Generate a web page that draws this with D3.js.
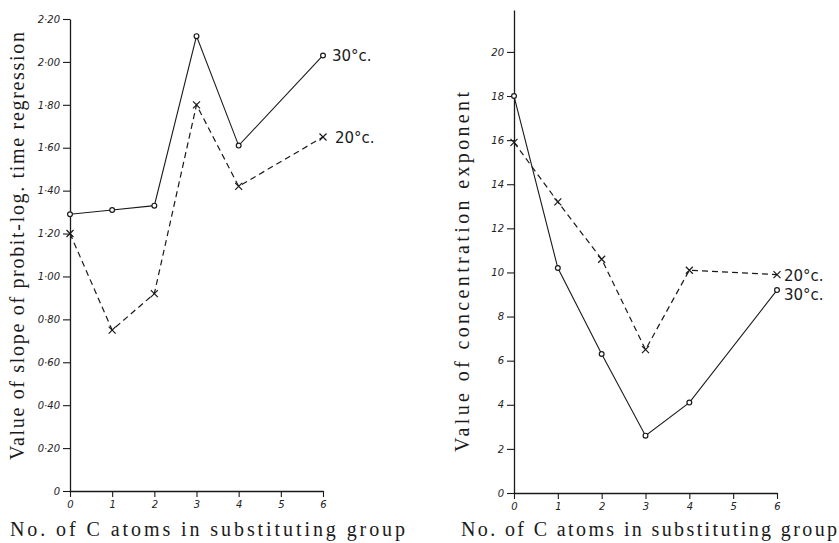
<!DOCTYPE html>
<html>
<head>
<meta charset="utf-8">
<script src="https://cdn.jsdelivr.net/npm/d3@7/dist/d3.min.js"></script>
<style>
  body { margin: 0; background: #fff; }
  .tick text { font-family: "DejaVu Sans", sans-serif; font-style: italic; font-size: 10px; fill: #222; }
  .title { font-family: "Liberation Serif", serif; font-size: 20px; fill: #1a1a1a; }
  .tag { font-family: "DejaVu Sans", sans-serif; font-size: 15px; fill: #1a1a1a; }
</style>
</head>
<body>
<div id="chart"></div>
<script>
// values
var carbons = [0, 1, 2, 3, 4, 6];
var xTicks = [0, 1, 2, 3, 4, 5, 6];

var slope30 = [1.29, 1.31, 1.33, 2.12, 1.61, 2.03];
var slope20 = [1.20, 0.75, 0.92, 1.80, 1.42, 1.65];
var slopeTicks = [0, 0.2, 0.4, 0.6, 0.8, 1.0, 1.2, 1.4, 1.6, 1.8, 2.0, 2.2];

var conc30 = [18.0, 10.2, 6.3, 2.6, 4.1, 9.2];
var conc20 = [15.9, 13.2, 10.6, 6.5, 10.1, 9.9];
var concTicks = [0, 2, 4, 6, 8, 10, 12, 14, 16, 18, 20];

var xTitle = "No. of C atoms in substituting group";
var tag30 = "30°c.";
var tag20 = "20°c.";

var ink = "#1a1a1a";

var svg = d3.select("#chart").append("svg")
  .attr("width", 839)
  .attr("height", 543);

function drawPanel(p) {
  var x = d3.scaleLinear().domain([0, 6]).range([p.left, p.right]);
  var y = d3.scaleLinear().domain([0, p.ymax]).range([p.bottom, p.top]);

  var g = svg.append("g");

  // axes
  var xAxis = d3.axisBottom(x).tickValues(xTicks).tickSize(6).tickSizeOuter(0).tickPadding(4)
    .tickFormat(d3.format("d"));
  g.append("g").attr("transform", "translate(0," + p.bottom + ")").call(xAxis);

  var yAxis = d3.axisLeft(y).tickValues(p.ticks).tickSize(7).tickSizeOuter(0).tickPadding(3)
    .tickFormat(p.fmt);
  g.append("g").attr("transform", "translate(" + p.left + ",0)").call(yAxis);

  g.selectAll(".domain").attr("stroke", ink).attr("stroke-width", 1.3);
  g.selectAll(".tick line").attr("stroke", ink).attr("stroke-width", 1.1);

  // axis titles
  g.append("text").attr("class", "title")
    .attr("x", p.xtX).attr("y", 536)
    .attr("textLength", p.xtLen).attr("lengthAdjust", "spacing")
    .text(xTitle);

  g.append("text").attr("class", "title")
    .attr("transform", "translate(" + p.ytX + "," + p.ytY + ") rotate(-90)")
    .attr("text-anchor", "middle")
    .attr("textLength", p.ytLen).attr("lengthAdjust", "spacing")
    .text(p.yTitle);

  var line = d3.line().x(function(d) { return x(d[0]); }).y(function(d) { return y(d[1]); });

  var s30 = carbons.map(function(c, i) { return [c, p.v30[i]]; });
  var s20 = carbons.map(function(c, i) { return [c, p.v20[i]]; });

  g.append("path").datum(s20).attr("d", line)
    .attr("fill", "none").attr("stroke", ink).attr("stroke-width", 1.2)
    .attr("stroke-dasharray", "6,4");

  g.append("path").datum(s30).attr("d", line)
    .attr("fill", "none").attr("stroke", ink).attr("stroke-width", 1.1);

  // crosses for 20 deg
  g.selectAll(".cross").data(s20).enter().append("path")
    .attr("class", "cross")
    .attr("d", function(d) {
      var cx = x(d[0]), cy = y(d[1]), r = 3.5;
      return "M" + (cx - r) + "," + (cy - r) + "L" + (cx + r) + "," + (cy + r) +
             "M" + (cx - r) + "," + (cy + r) + "L" + (cx + r) + "," + (cy - r);
    })
    .attr("stroke", ink).attr("stroke-width", 1.2).attr("fill", "none");

  // open circles for 30 deg
  g.selectAll(".dot").data(s30).enter().append("circle")
    .attr("class", "dot")
    .attr("cx", function(d) { return x(d[0]); })
    .attr("cy", function(d) { return y(d[1]); })
    .attr("r", 2.4)
    .attr("fill", "#fff").attr("stroke", ink).attr("stroke-width", 1.2);

  // series tags at the last point
  g.append("text").attr("class", "tag")
    .attr("x", x(6) + p.tag30dx).attr("y", y(p.v30[5]) + p.tag30dy).text(tag30);
  g.append("text").attr("class", "tag")
    .attr("x", x(6) + p.tag20dx).attr("y", y(p.v20[5]) + p.tag20dy).text(tag20);
}

function dotFmt(d) {
  return d === 0 ? "0" : d3.format(".2f")(d).replace(".", "·");
}

drawPanel({
  left: 70, right: 323, top: 19, bottom: 491, ymax: 2.2,
  ticks: slopeTicks, fmt: dotFmt, v30: slope30, v20: slope20,
  yTitle: "Value of slope of probit-log. time regression",
  ytX: 24, ytY: 246, ytLen: 428,
  xtX: 10, xtLen: 395,
  tag30dx: 9, tag30dy: 6, tag20dx: 12, tag20dy: 6
});

drawPanel({
  left: 514, right: 777, top: 10, bottom: 493, ymax: 21.9,
  ticks: concTicks, fmt: d3.format("d"), v30: conc30, v20: conc20,
  yTitle: "Value of concentration exponent",
  ytX: 469, ytY: 272, ytLen: 360,
  xtX: 461, xtLen: 376,
  tag30dx: 7, tag30dy: 10, tag20dx: 7, tag20dy: 6
});
</script>
</body>
</html>
